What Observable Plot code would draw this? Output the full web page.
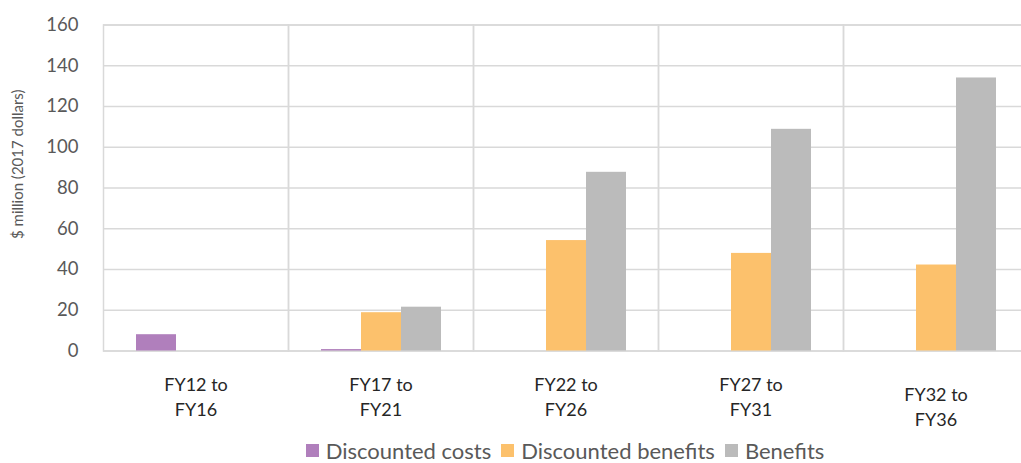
<!DOCTYPE html>
<html>
<head>
<meta charset="utf-8">
<script src="https://cdn.jsdelivr.net/npm/d3@7"></script>
<script src="https://cdn.jsdelivr.net/npm/@observablehq/plot@0.6"></script>
<style>
  html, body { margin: 0; padding: 0; background: #fff; overflow: hidden; }
  #wrap { width: 1029px; font-family: Lato, "Open Sans", sans-serif; }
  #legend { display: flex; justify-content: center; align-items: center; padding-left: 101px; height: 25px; font-size: 22px; color: #595959; line-height: 25px; }
  .item { display: flex; align-items: center; margin: 0 5px; }
  .sw { width: 13px; height: 13px; margin-right: 7px; }
</style>
</head>
<body>
<div id="wrap"></div>
<script>
const periods = ["FY12 to\nFY16", "FY17 to\nFY21", "FY22 to\nFY26", "FY27 to\nFY31", "FY32 to\nFY36"];
const seriesNames = ["Discounted costs", "Discounted benefits", "Benefits"];
const discountedCosts = [8.0, 0.7, 0, 0, 0];
const discountedBenefits = [0, 18.8, 54.2, 47.9, 42.2];
const benefits = [0, 21.5, 87.7, 108.8, 134.0];
const yTicks = [0, 20, 40, 60, 80, 100, 120, 140, 160];
const colors = ["#b07fbc", "#fcc16c", "#bbbbbb"];

const seriesValues = [discountedCosts, discountedBenefits, benefits];
const data = [];
periods.forEach((p, i) => {
  seriesNames.forEach((s, j) => {
    data.push({period: p, series: s, value: seriesValues[j][i]});
  });
});

const ink = "#595959";
const grid = "#d9d9d9";

const chart = Plot.plot({
  width: 1029,
  height: 438,
  marginLeft: 101,
  marginRight: 0,
  marginTop: 24.5,
  marginBottom: 87.5,
  style: {fontFamily: "Lato, 'Open Sans', sans-serif", color: ink, background: "#fff"},
  fx: {domain: periods, padding: 0, axis: null},
  x: {domain: seriesNames, paddingInner: 0, paddingOuter: 0.763, axis: null},
  y: {domain: [0, 160], axis: null},
  color: {domain: seriesNames, range: colors},
  marks: [
    Plot.gridY(yTicks, {stroke: grid, strokeOpacity: 1, strokeWidth: 1.5}),
    Plot.frame({stroke: grid, strokeWidth: 1.5}),
    Plot.barY(data, {fx: "period", x: "series", y: "value", fill: "series", inset: 0}),
    Plot.axisY(yTicks, {tickSize: 0, tickPadding: 25, fontSize: 18.5, fill: ink, label: null}),
    Plot.text(periods.slice(0, 4), {fx: d => d, text: d => d, frameAnchor: "bottom", lineAnchor: "top", dy: 22, fontSize: 18, lineHeight: 1.4, fill: "#262626"}),
    Plot.text(periods.slice(4), {fx: d => d, text: d => d, frameAnchor: "bottom", lineAnchor: "top", dy: 32, fontSize: 18, lineHeight: 1.4, fill: "#262626"}),
    Plot.text(["$ million (2017 dollars)"], {facet: "super", frameAnchor: "left", rotate: -90, dx: -85, dy: 51, fontSize: 15, fill: ink})
  ]
});

const wrap = document.getElementById("wrap");
wrap.appendChild(chart);
const legend = document.createElement("div");
legend.id = "legend";
seriesNames.forEach((s, i) => {
  const it = document.createElement("div");
  it.className = "item";
  const sw = document.createElement("div");
  sw.className = "sw";
  sw.style.background = colors[i];
  const t = document.createElement("span");
  t.textContent = s;
  it.appendChild(sw);
  it.appendChild(t);
  legend.appendChild(it);
});
wrap.appendChild(legend);
</script>
</body>
</html>
